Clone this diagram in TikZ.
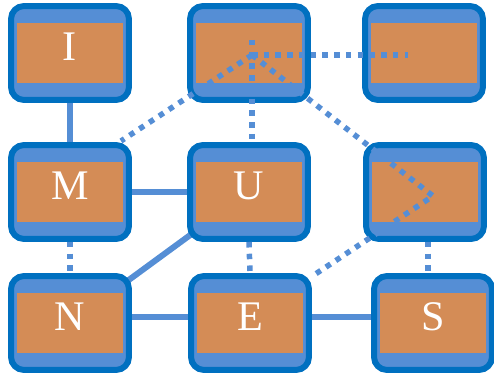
\documentclass[tikz,border=0pt]{standalone}
\usepackage{fontspec}
\setmainfont{Liberation Serif}

\begin{document}
\begin{tikzpicture}[%
        % one unit is one pixel, y runs downwards
        x=0.02cm,y=-0.02cm
        ]

        \definecolor{edgecolor}{RGB}{0, 112, 192}
        \definecolor{cellcolor}{RGB}{85, 142, 213}
        \definecolor{facecolor}{RGB}{212, 140, 86}

        \tikzset{
            cell/.style={draw=edgecolor,fill=cellcolor,line width=0.12cm,
                rounded corners=0.26cm,minimum width=2.36cm,minimum height=1.88cm},
            face/.style={fill=facecolor,minimum width=2.12cm,minimum height=1.22cm,
                text depth=0.24cm,text=white,font=\fontsize{24}{24}\selectfont},
            link/.style={cellcolor,line width=0.12cm},
            dotlink/.style={cellcolor,line width=0.11cm,dash pattern=on 0.11cm off 0.125cm},
        }

        \useasboundingbox (0,0) rectangle (494,375);

        % cell centres
        \coordinate (cI) at (70,53);  % top left
        \coordinate (cT) at (249,53);  % top middle
        \coordinate (cR) at (424,53);  % top right
        \coordinate (cM) at (70,192);  % middle left
        \coordinate (cU) at (249,192);  % middle
        \coordinate (cP) at (425,192);  % middle right
        \coordinate (cN) at (70,323);  % bottom left
        \coordinate (cE) at (250,323);  % bottom middle
        \coordinate (cS) at (433,323);  % bottom right

        % solid links, behind the cells
        \draw[link] (cI) -- (cM);
        \draw[link] (cM) -- (cU);
        \draw[link] (cU) -- (cN);
        \draw[link] ([yshift=0.12cm]cN) -- ([yshift=0.12cm]cE);
        \draw[link] ([yshift=0.12cm]cE) -- ([yshift=0.12cm]cS);

        % cells
        \node[cell] (I) at (cI) {};
        \node[face] (I-face) at (cI) {I};
        \node[cell] (T) at (cT) {};
        \node[face] (T-face) at (cT) {};
        \node[cell] (R) at (cR) {};
        \node[face] (R-face) at (cR) {};
        \node[cell] (M) at (cM) {};
        \node[face] (M-face) at (cM) {M};
        \node[cell] (U) at (cU) {};
        \node[face] (U-face) at (cU) {U};
        \node[cell] (P) at (cP) {};
        \node[face] (P-face) at (cP) {};
        \node[cell] (N) at (cN) {};
        \node[face] (N-face) at (cN) {N};
        \node[cell] (E) at (cE) {};
        \node[face] (E-face) at (cE) {E};
        \node[cell] (S) at (cS) {};
        \node[face] (S-face) at (cS) {S};

        % dotted links, on top of the cells
        \coordinate (hub) at (252,55);
        \coordinate (hubtop) at (252,40);
        \coordinate (hubend) at (408,55);
        \coordinate (bend) at (433,196);
        \coordinate (Mtip) at (121,141);
        \coordinate (Etip) at (311,277);

        \draw[dotlink] (hubtop) -- (hubtop |- U.north);
        \draw[dotlink] (hub) -- (hubend);
        \draw[dotlink] (hub) -- (Mtip);
        \draw[dotlink] (hub) -- (bend) -- (Etip);
        \draw[dotlink] (M.south) -- (N.north);
        \draw[dotlink] (U.south) -- (E.north);
        \draw[dotlink] ([xshift=0.06cm]P.south) -- ([xshift=0.06cm]P.south |- S.north);

    \end{tikzpicture}
\end{document}
